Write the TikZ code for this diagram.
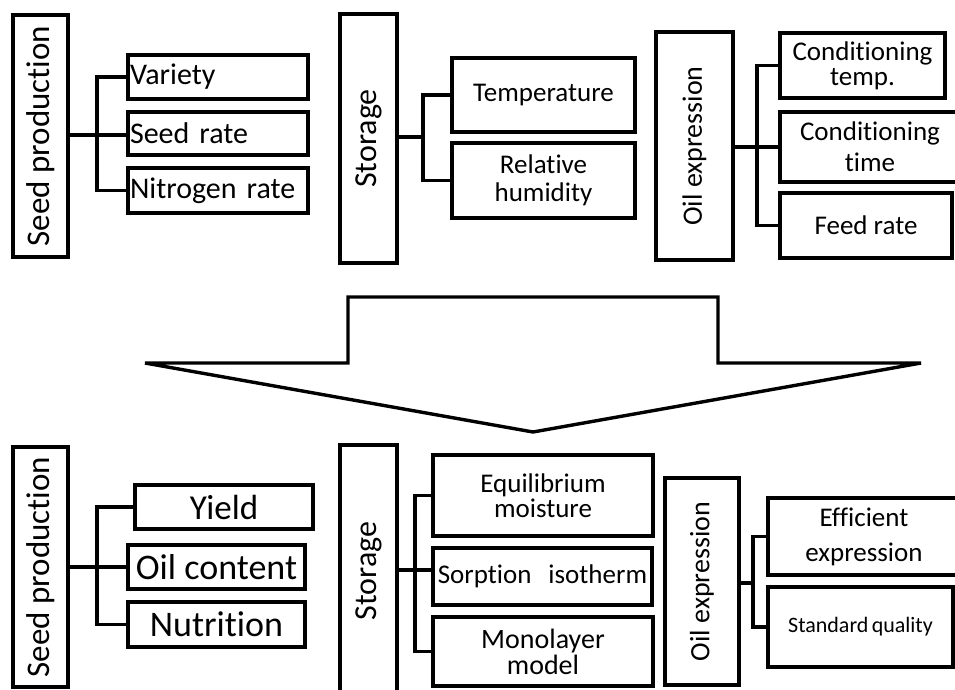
\documentclass[tikz,border=0pt]{standalone}
\usepackage{fontspec}
\setmainfont{Carlito}[Ligatures=NoCommon]
\newcommand{\fs}[2]{\fontsize{#1}{#2}\selectfont}
\tikzset{
  box/.style={draw, line width=3.8pt, inner sep=0pt, align=center, text=black},
  conn/.style={line width=3.4pt},
  lbl/.style={rotate=90, inner sep=0pt},
  bigarrow/.style={draw, line width=3.4pt, fill=white, line join=miter}
}
\begin{document}
\begin{tikzpicture}[x=1pt,y=1pt]
\useasboundingbox (0,0) rectangle (955,-690);

% ---------- upper row: factors ----------
% seed production
\node[box, minimum width=55, minimum height=242] (sp1) at (40.5,-136) {};
\node[lbl, font=\fs{33}{36}] at (sp1.center) {Seed production};
\node[box, minimum height=44, text width=176, align=left, inner xsep=2pt, font=\fs{30}{32}] (var) at (218,-77) {Variety};
\node[box, minimum height=43, text width=176, align=left, inner xsep=2pt, font=\fs{30}{32}] (sr) at (218,-133.5) {Seed rate};
\node[box, minimum height=45, text width=176, align=left, inner xsep=2pt, font=\fs{30}{32}] (nit) at (218,-190.5) {Nitrogen rate};
\coordinate (j1) at (97,-135);
\draw[conn] (sp1.east |- j1) -- (j1);
\draw[conn] (var.west) -- (var.west -| j1) -- (nit.west -| j1) -- (nit.west);
\draw[conn] (j1) -- (sr.west |- j1);

% storage
\node[box, minimum width=57, minimum height=249] (st1) at (368.5,-138.5) {};
\node[lbl, font=\fs{32}{34}] at (st1.center) {Storage};
\node[box, minimum width=183, minimum height=74, font=\fs{27}{28}] (temp) at (543.5,-95) {Temperature};
\node[box, minimum width=183, minimum height=75, font=\fs{27}{28}] (rh) at (543.5,-180.5) {Relative\\humidity};
\coordinate (j2) at (423,-137);
\draw[conn] (st1.east |- j2) -- (j2);
\draw[conn] (temp.west) -- (temp.west -| j2) -- (rh.west -| j2) -- (rh.west);

% oil expression
\node[box, minimum width=77, minimum height=228] (oe1) at (694.5,-146) {};
\node[lbl, font=\fs{28}{30}] at (oe1.center) {Oil expression};
\node[box, minimum width=165, minimum height=65, font=\fs{27}{25}] (ct) at (862.5,-65.5) {Conditioning\\temp.};
\node[box, minimum width=180, minimum height=70, font=\fs{27}{31}] (cti) at (870,-147) {Conditioning\\time};
\node[box, minimum width=172, minimum height=65, font=\fs{27}{29}] (fr) at (866,-225.5) {Feed rate};
\coordinate (j3) at (757,-147);
\draw[conn] (oe1.east |- j3) -- (j3) -- (cti.west |- j3);
\draw[conn] (ct.west) -- (ct.west -| j3) -- (fr.west -| j3) -- (fr.west);

% ---------- transition arrow ----------
\path[bigarrow] (348,-297) -- (718,-297) -- (718,-363) -- (921,-363)
  -- (533,-432) -- (145,-363) -- (348,-363) -- cycle;

% ---------- lower row: outcomes ----------
% seed production
\node[box, minimum width=55, minimum height=240] (sp2) at (40.5,-567) {};
\node[lbl, font=\fs{33}{36}] at (sp2.center) {Seed production};
\node[box, minimum width=178, minimum height=44, font=\fs{35}{38}] (yld) at (224,-507) {Yield};
\node[box, minimum width=177, minimum height=44, font=\fs{36}{38}] (oc) at (216.5,-567) {Oil content};
\node[box, minimum width=177, minimum height=45, font=\fs{36}{38}] (nut) at (216.5,-624.5) {Nutrition};
\coordinate (j4) at (97,-567);
\draw[conn] (sp2.east |- j4) -- (j4) -- (oc.west |- j4);
\draw[conn] (yld.west) -- (yld.west -| j4) -- (nut.west -| j4) -- (nut.west);

% storage
\node[box, minimum width=57, minimum height=260] (st2) at (368.5,-575) {};
\node[lbl, font=\fs{32}{34}] at (368.5,-571) {Storage};
\node[box, minimum width=220, minimum height=81, font=\fs{27}{25}] (eq) at (543,-495.5) {Equilibrium\\moisture};
\node[box, minimum width=219, minimum height=57, font=\fs{27}{29}] (so) at (542.5,-576.5) {Sorption\hspace{0.4em} isotherm};
\node[box, minimum width=220, minimum height=69, font=\fs{28}{26}] (mono) at (543,-651.5) {Monolayer\\model};
\coordinate (j5) at (415,-570);
\draw[conn] (st2.east |- j5) -- (j5) -- (so.west |- j5);
\draw[conn] (eq.west) -- (eq.west -| j5) -- (mono.west -| j5) -- (mono.west);

% oil expression
\node[box, minimum width=74, minimum height=207] (oe2) at (702,-581.5) {};
\node[lbl, font=\fs{28}{30}] at (oe2.center) {Oil expression};
\node[box, minimum width=192, minimum height=77, font=\fs{27}{35}] (ee) at (864,-536.5) {Efficient\\expression};
\node[box, minimum width=185, minimum height=80, font=\fs{22}{24}] (sq) at (860.5,-627) {Standard\hspace{0.15em}quality};
\coordinate (j6) at (753,-583);
\draw[conn] (oe2.east |- j6) -- (j6);
\draw[conn] (ee.west) -- (ee.west -| j6) -- (sq.west -| j6) -- (sq.west);
\end{tikzpicture}
\end{document}
